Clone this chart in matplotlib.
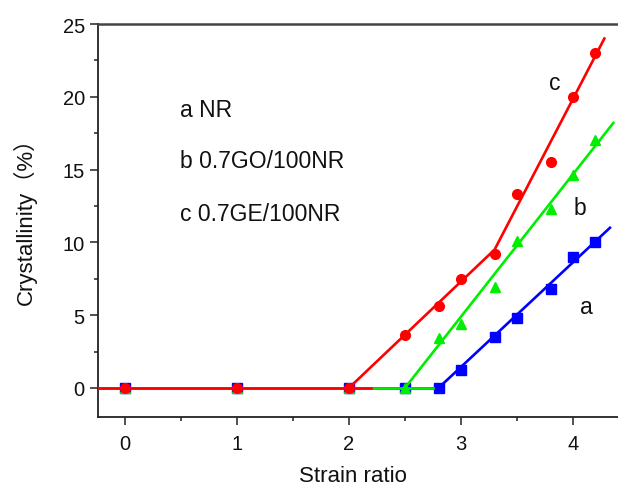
import numpy as np
import matplotlib
matplotlib.use("Agg")
import matplotlib.pyplot as plt
from matplotlib.ticker import MultipleLocator

# ---- data ----
strain = [0, 1, 2, 2.5, 2.8, 3.0, 3.3, 3.5, 3.8, 4.0, 4.2]
cryst_a = [0, 0, 0, 0, 0, 1.2, 3.5, 4.8, 6.8, 9.0, 10.0]          # NR
cryst_b = [0, 0, 0, 0, 3.4, 4.4, 6.9, 10.1, 12.3, 14.6, 17.0]      # 0.7GO/100NR
cryst_c = [0, 0, 0, 3.6, 5.6, 7.5, 9.2, 13.3, 15.5, 20.0, 23.0]    # 0.7GE/100NR

# fitted guide lines (vertices)
fit_a_flat_x = [-0.25, 2.8]
fit_a_rise_x = [2.8, 4.33]
fit_a_rise_y = [0, 11.0]
fit_b_flat_x = [-0.25, 2.75]
fit_b_rise_x = [2.5, 4.36]
fit_b_rise_y = [0, 18.2]
fit_c_flat_x = [-0.25, 2.2]
fit_c_rise_x = [2.0, 3.3, 4.28]
fit_c_rise_y = [0, 9.5, 24.0]

legend_lines = ["a NR", "b 0.7GO/100NR", "c 0.7GE/100NR"]
curve_tags = ["a", "b", "c"]

plt.rcParams['font.family'] = ['Liberation Sans', 'Noto Sans CJK SC', 'DejaVu Sans']

W, H = 618, 489
fig = plt.figure(figsize=(W / 100, H / 100), dpi=100)
ax = fig.add_axes([98 / W, 71 / H, (625 - 98) / W, (418 - 25) / H])

blue, green, red = '#0000FF', '#00EE00', '#FF0000'
lw = 1.9
ms = 6.5

# blue (a)
ax.plot(fit_a_flat_x, [0, 0], color=blue, lw=lw, zorder=2)
ax.plot(fit_a_rise_x, fit_a_rise_y, color=blue, lw=lw, zorder=2)
ax.plot(strain, cryst_a, ls='none', marker='s', color=blue, ms=ms, zorder=3)
# green (b)
ax.plot(fit_b_flat_x, [0, 0], color=green, lw=lw, zorder=4)
ax.plot(fit_b_rise_x, fit_b_rise_y, color=green, lw=lw, zorder=4)
ax.plot(strain, cryst_b, ls='none', marker='^', color=green, ms=ms + 0.5, zorder=5)
# red (c)
ax.plot(fit_c_flat_x, [0, 0], color=red, lw=lw, zorder=6)
ax.plot(fit_c_rise_x, fit_c_rise_y, color=red, lw=lw, zorder=6)
ax.plot(strain, cryst_c, ls='none', marker='o', color=red, ms=ms + 0.5, zorder=7)

ax.set_xlim(-0.241, -0.241 + (625 - 98) / 112)
ax.set_ylim(-2, 25)

ax.xaxis.set_major_locator(MultipleLocator(1))
ax.xaxis.set_minor_locator(MultipleLocator(0.5))
ax.yaxis.set_major_locator(MultipleLocator(5))
ax.yaxis.set_minor_locator(MultipleLocator(2.5))
ax.tick_params(which='both', direction='out', top=False, right=False,
               width=1.1, colors='#222222', labelsize=14.5, labelcolor='#111111')
ax.tick_params(which='major', length=5.5)
ax.tick_params(axis='x', which='major', pad=7)
ax.tick_params(axis='y', which='major', pad=4)
ax.tick_params(which='minor', length=3)

for side in ['left', 'bottom', 'top']:
    ax.spines[side].set_linewidth(1.3)
    ax.spines[side].set_color('#222222')
ax.spines['top'].set_linewidth(1.8)
ax.spines['top'].set_color('#444444')
ax.spines['right'].set_visible(False)

fig.text(353 / W, 1 - 477 / H, 'Strain ratio', fontsize=16, color='#111111',
         ha='center', va='center')
fig.text(25 / W, 1 - 216 / H, 'Crystallinity（%）', fontsize=16, color='#111111',
         ha='center', va='center', rotation=90)

ys = [19.15, 15.6, 11.95]
for t, yv in zip(legend_lines, ys):
    ax.text(0.49, yv, t, fontsize=16.5, va='center', ha='left', color='#111111')

tag_pos = [(4.12, 5.6), (4.06, 12.4), (3.84, 21.0)]
for t, (xv, yv) in zip(curve_tags, tag_pos):
    ax.text(xv, yv, t, fontsize=16.5, va='center', ha='center', color='#111111')

fig.savefig('out.png', dpi=100)
